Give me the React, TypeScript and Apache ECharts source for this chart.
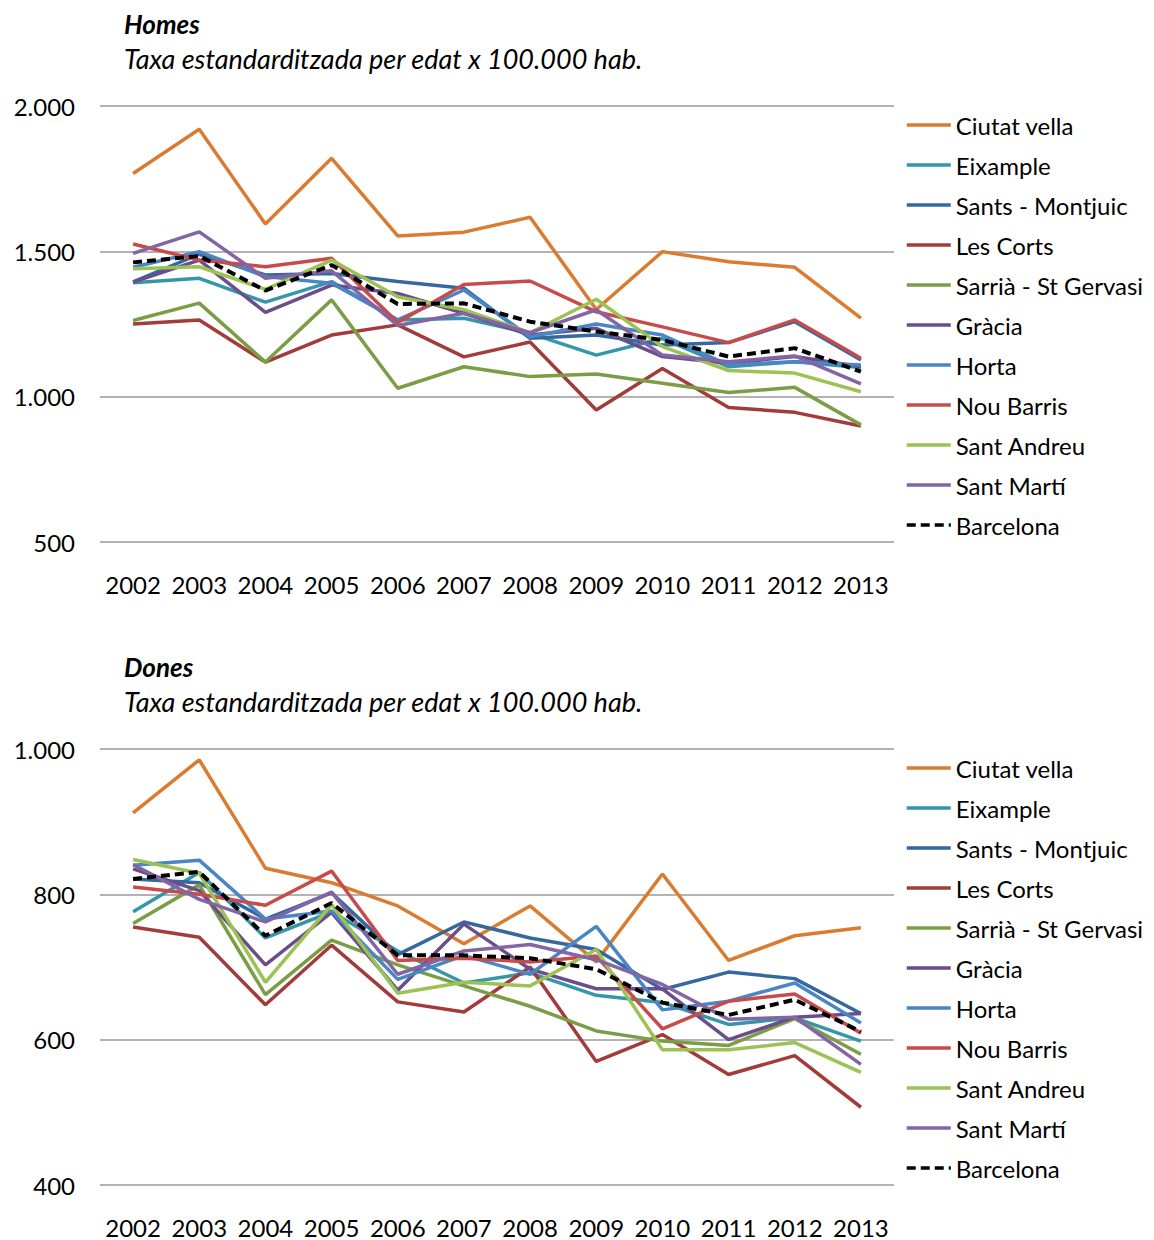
import React, { useEffect, useRef } from "react";
import * as echarts from "echarts";

const years = ["2002", "2003", "2004", "2005", "2006", "2007", "2008", "2009", "2010", "2011", "2012", "2013"];

const districts = [
  "Ciutat vella", "Eixample", "Sants - Montjuic", "Les Corts", "Sarrià - St Gervasi",
  "Gràcia", "Horta", "Nou Barris", "Sant Andreu", "Sant Martí", "Barcelona",
];

const colors = [
  "#DA7B30", "#3596A9", "#35689F", "#A33B3B", "#7B9D45",
  "#6A4D8A", "#4A86C5", "#C84B4B", "#9DC254", "#8365A6", "#000000",
];

// Homes (men)
const homCiutatVella = [1768, 1920, 1594, 1820, 1553, 1566, 1617, 1300, 1499, 1464, 1445, 1270];
const homEixample = [1392, 1407, 1325, 1396, 1264, 1270, 1218, 1143, 1200, 1103, 1120, 1100];
const homSants = [1395, 1490, 1419, 1424, 1396, 1373, 1201, 1212, 1178, 1186, 1258, 1126];
const homLesCorts = [1250, 1264, 1119, 1212, 1247, 1137, 1188, 954, 1097, 963, 946, 899];
const homSarria = [1262, 1322, 1119, 1333, 1029, 1103, 1069, 1078, 1046, 1014, 1032, 903];
const homGracia = [1394, 1470, 1290, 1384, 1355, 1287, 1212, 1235, 1138, 1115, 1138, 1103];
const homHorta = [1445, 1499, 1413, 1390, 1264, 1367, 1206, 1250, 1212, 1109, 1120, 1109];
const homNouBarris = [1525, 1470, 1447, 1476, 1255, 1386, 1398, 1292, 1240, 1186, 1264, 1132];
const homSantAndreu = [1440, 1447, 1369, 1470, 1344, 1299, 1220, 1335, 1172, 1090, 1081, 1017];
const homSantMarti = [1493, 1567, 1407, 1433, 1245, 1287, 1220, 1299, 1143, 1120, 1140, 1044];
const homBarcelona = [1462, 1484, 1365, 1453, 1319, 1321, 1258, 1224, 1195, 1138, 1167, 1086];

// Dones (women)
const donCiutatVella = [912, 985, 836, 816, 784, 732, 784, 707, 828, 709, 743, 754];
const donEixample = [776, 830, 740, 776, 722, 678, 692, 661, 651, 621, 630, 598];
const donSants = [821, 816, 766, 802, 717, 762, 740, 724, 669, 693, 684, 636];
const donLesCorts = [755, 741, 648, 730, 652, 638, 700, 570, 607, 552, 578, 507];
const donSarria = [760, 813, 662, 737, 703, 674, 646, 612, 598, 592, 629, 580];
const donGracia = [835, 805, 703, 775, 668, 759, 697, 670, 670, 600, 631, 636];
const donHorta = [840, 847, 766, 777, 683, 716, 690, 756, 641, 653, 678, 623];
const donNouBarris = [810, 800, 785, 832, 709, 712, 707, 715, 615, 653, 663, 609];
const donSantAndreu = [848, 829, 679, 786, 664, 679, 674, 724, 586, 586, 596, 555];
const donSantMarti = [841, 793, 762, 803, 690, 722, 731, 710, 676, 628, 631, 566];
const donBarcelona = [821, 831, 743, 788, 716, 716, 712, 697, 651, 634, 655, 611];

const homesData = [homCiutatVella, homEixample, homSants, homLesCorts, homSarria, homGracia, homHorta, homNouBarris, homSantAndreu, homSantMarti, homBarcelona];
const donesData = [donCiutatVella, donEixample, donSants, donLesCorts, donSarria, donGracia, donHorta, donNouBarris, donSantAndreu, donSantMarti, donBarcelona];

const FONT = "Lato";
const FS = 24;

function fmt(v: number) {
  return String(v).replace(/\B(?=(\d{3})+(?!\d))/g, ".");
}

export default function App() {
  const ref = useRef<HTMLDivElement>(null);
  useEffect(() => {
    if (!ref.current) return;
    const chart = echarts.init(ref.current, null, { renderer: "svg" });

    const mkSeries = (data: number[][], idx: number) =>
      data.map((d, i) => ({
        name: districts[i],
        type: "line",
        xAxisIndex: idx,
        yAxisIndex: idx,
        data: d,
        symbol: "none",
        showSymbol: false,
        lineStyle: {
          color: colors[i],
          width: i === 10 ? 4 : 3.5,
          type: i === 10 ? [9, 5] : "solid",
        },
        itemStyle: { color: colors[i] },
        z: i === 10 ? 5 : 2,
      }));

    const mkLegend = (top: number) => ({
      orient: "vertical",
      left: 905,
      top,
      padding: 0,
      itemWidth: 44,
      itemHeight: 14,
      itemGap: 16,
      data: districts,
      selectedMode: false,
      itemStyle: { opacity: 0 },
      lineStyle: { width: 3.5 },
      textStyle: { fontFamily: FONT, fontSize: FS, lineHeight: 24, color: "#000", padding: [0, 0, 0, 0] },
    });

    const xAx = (gridIndex: number) => ({
      type: "category",
      gridIndex,
      data: years,
      boundaryGap: true,
      axisLine: { show: false },
      axisTick: { show: false },
      axisLabel: { fontFamily: FONT, fontSize: FS, color: "#000", margin: 30, interval: 0 },
    });

    const yAx = (gridIndex: number, min: number, max: number, interval: number) => ({
      type: "value",
      gridIndex,
      min,
      max,
      interval,
      axisLine: { show: false },
      axisTick: { show: false },
      axisLabel: { fontFamily: FONT, fontSize: FS, color: "#000", margin: 25, formatter: (v: number) => fmt(v) },
      splitLine: { lineStyle: { color: "#9A9A9A", width: 1.5 } },
    });

    chart.setOption({
      animation: false,
      backgroundColor: "#fff",
      grid: [
        { left: 100, width: 794, top: 106, height: 436 },
        { left: 100, width: 794, top: 749, height: 436 },
      ],
      xAxis: [xAx(0), xAx(1)],
      yAxis: [yAx(0, 500, 2000, 500), yAx(1, 400, 1000, 200)],
      legend: [mkLegend(113), mkLegend(756)],
      series: [...mkSeries(homesData, 0), ...mkSeries(donesData, 1)],
      graphic: [
        { type: "text", x: 124, y: 24, style: { text: "Homes", font: `italic bold 26px ${FONT}`, fill: "#000", verticalAlign: "middle" } },
        { type: "text", x: 124, y: 58, style: { text: "Taxa estandarditzada per edat x 100.000 hab.", font: `italic 27px ${FONT}`, fill: "#000", verticalAlign: "middle" } },
        { type: "text", x: 124, y: 667, style: { text: "Dones", font: `italic bold 26px ${FONT}`, fill: "#000", verticalAlign: "middle" } },
        { type: "text", x: 124, y: 701, style: { text: "Taxa estandarditzada per edat x 100.000 hab.", font: `italic 27px ${FONT}`, fill: "#000", verticalAlign: "middle" } },
      ],
    });
    return () => chart.dispose();
  }, []);
  return <div ref={ref} style={{ position: "absolute", left: 0, top: 0, width: 1154, height: 1240 }} />;
}
